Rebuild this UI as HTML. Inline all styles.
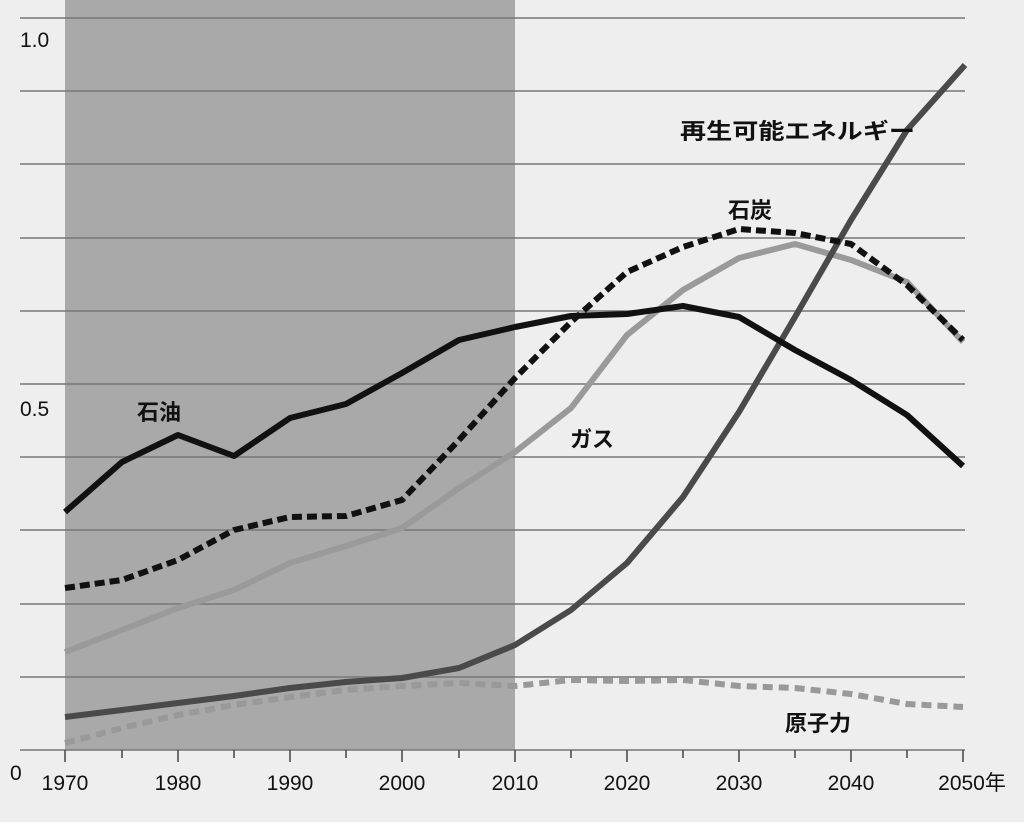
<!DOCTYPE html>
<html><head><meta charset="utf-8"><style>
html,body{margin:0;padding:0;background:#efefef;}
svg{display:block;}
text{font-family:"Liberation Sans","Noto Sans CJK JP",sans-serif;fill:#111;}
</style></head><body>
<svg width="1024" height="822" viewBox="0 0 1024 822" xmlns="http://www.w3.org/2000/svg">
<rect x="0" y="0" width="1024" height="822" fill="#eeeeee"/>
<rect x="65" y="0" width="450" height="750" fill="#a9a9a9"/>
<g stroke="#777" stroke-width="1.5">
<line x1="20" y1="18" x2="965" y2="18"/>
<line x1="20" y1="91" x2="965" y2="91"/>
<line x1="20" y1="164" x2="965" y2="164"/>
<line x1="20" y1="238" x2="965" y2="238"/>
<line x1="20" y1="311" x2="965" y2="311"/>
<line x1="20" y1="384" x2="965" y2="384"/>
<line x1="20" y1="457" x2="965" y2="457"/>
<line x1="20" y1="530" x2="965" y2="530"/>
<line x1="20" y1="604" x2="965" y2="604"/>
<line x1="20" y1="677" x2="965" y2="677"/>
<line x1="20" y1="750" x2="965" y2="750"/>
</g>
<g stroke="#444" stroke-width="1.5">
<line x1="65" y1="750" x2="65" y2="762"/><line x1="122" y1="750" x2="122" y2="758"/>
<line x1="178" y1="750" x2="178" y2="762"/><line x1="234" y1="750" x2="234" y2="758"/>
<line x1="290" y1="750" x2="290" y2="762"/><line x1="346" y1="750" x2="346" y2="758"/>
<line x1="402" y1="750" x2="402" y2="762"/><line x1="459" y1="750" x2="459" y2="758"/>
<line x1="515" y1="750" x2="515" y2="762"/><line x1="571" y1="750" x2="571" y2="758"/>
<line x1="627" y1="750" x2="627" y2="762"/><line x1="683" y1="750" x2="683" y2="758"/>
<line x1="739" y1="750" x2="739" y2="762"/><line x1="795" y1="750" x2="795" y2="758"/>
<line x1="851" y1="750" x2="851" y2="762"/><line x1="907" y1="750" x2="907" y2="758"/>
<line x1="963" y1="750" x2="963" y2="762"/>
</g>
<g fill="none" stroke-linejoin="round" stroke-linecap="butt">
<polyline stroke="#999" stroke-width="6" stroke-dasharray="10,6" points="65,743 122,728 178,715 234,705 290,697 346,690 402,686 459,683 515,686 571,680 627,681 683,680 739,686 795,688 851,694 907,704 963,707"/>
<polyline stroke="#9a9a9a" stroke-width="6" points="65,652 122,630 178,608 234,590 290,563 346,546 402,528 459,488 515,452 571,408 627,335 683,290 739,258 795,244 851,260 907,282 963,342"/>
<polyline stroke="#4a4a4a" stroke-width="6" points="65,717 122,710 178,703 234,696 290,688 346,682 402,678 459,668 515,645 571,610 627,563 683,497 739,412 795,317 851,220 907,130 965,65"/>
<polyline stroke="#111" stroke-width="6" stroke-dasharray="10,5" points="65,588 122,580 178,560 234,530 290,517 346,516 402,500 459,440 515,378 571,322 627,272 683,247 739,229 795,233 851,244 907,285 963,340"/>
<polyline stroke="#111" stroke-width="6" points="65,512 122,462 178,435 234,456 290,418 346,404 402,373 459,340 515,327 571,316 627,314 683,306 739,317 795,350 851,380 907,415 963,466"/>
</g>
<g font-size="22" font-weight="bold">
<text x="680" y="139" textLength="235" lengthAdjust="spacingAndGlyphs">再生可能エネルギー</text>
<text x="728" y="218">石炭</text>
<text x="137" y="420">石油</text>
<text x="570" y="447">ガス</text>
<text x="785" y="731">原子力</text>
</g>
<g font-size="21">
<text x="20" y="47">1.0</text>
<text x="20" y="416">0.5</text>
<text x="10" y="780">0</text>
</g>
<g font-size="21" text-anchor="middle">
<text x="65" y="790">1970</text><text x="178" y="790">1980</text><text x="290" y="790">1990</text>
<text x="402" y="790">2000</text><text x="515" y="790">2010</text><text x="627" y="790">2020</text>
<text x="739" y="790">2030</text><text x="851" y="790">2040</text><text x="972" y="790">2050年</text>
</g>
</svg>
</body></html>
